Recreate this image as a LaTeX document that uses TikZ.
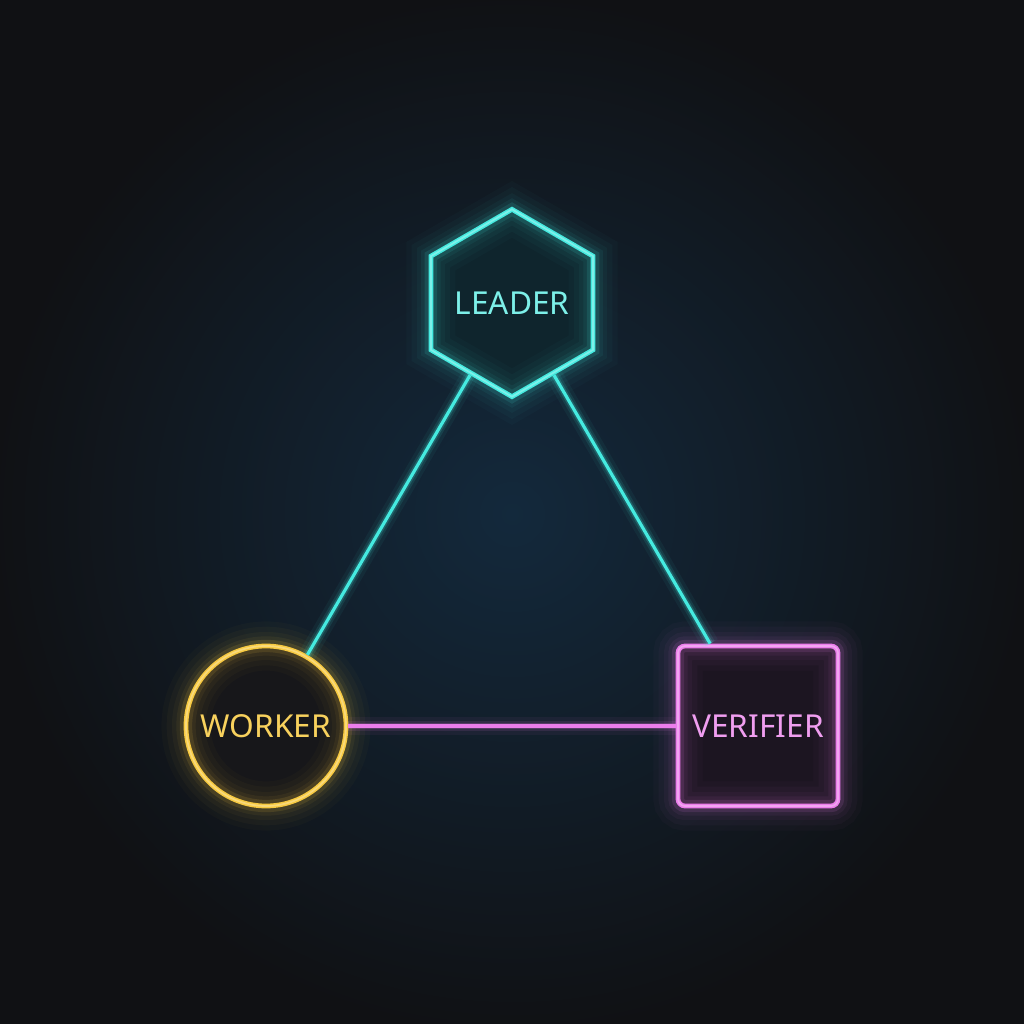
\documentclass[tikz,border=0pt]{standalone}
\usepackage{fontspec}
\setmainfont{Noto Sans}
\usepackage{tikz}
\usetikzlibrary{shapes.geometric}

\definecolor{bgout}{HTML}{101114}
\definecolor{bgin}{HTML}{13293C}
\definecolor{leadercyan}{HTML}{45EAE0}
\definecolor{workeryellow}{HTML}{F7C940}
\definecolor{verifiermagenta}{HTML}{EB7DEB}
\definecolor{leaderfill}{HTML}{0F252D}
\definecolor{workerfill}{HTML}{17171A}
\definecolor{verifierfill}{HTML}{1C1521}

\begin{document}
\begin{tikzpicture}[node distance=4.23cm,
  neon/.style={draw=#1, line width=1.35pt,
    postaction={draw=#1, line width=14pt, opacity=0.025},
    postaction={draw=#1, line width=11pt, opacity=0.03},
    postaction={draw=#1, line width=8pt, opacity=0.04},
    postaction={draw=#1, line width=5.5pt, opacity=0.06},
    postaction={draw=#1, line width=3.5pt, opacity=0.12},
    postaction={draw=#1!45!white, line width=0.5pt, opacity=0.55}},
  wire/.style={draw=#1, line width=0.9pt,
    postaction={draw=#1, line width=5pt, opacity=0.05},
    postaction={draw=#1, line width=3pt, opacity=0.1},
    postaction={draw=#1, line width=1.8pt, opacity=0.2}},
  tag/.style={font=\fontsize{9}{10}\selectfont, text=#1}]

\useasboundingbox (0,0) rectangle (10.24,10.24);
\begin{scope}
\clip (0,0) rectangle (10.24,10.24);
\fill[bgout] (0,0) rectangle (10.24,10.24);
\shade[inner color=bgin, outer color=bgout] (5.12,5.1) circle (5.2cm);
\end{scope}

\node (leader) [regular polygon, regular polygon sides=6, shape border rotate=30, minimum size=1.83cm, inner sep=0pt, fill=leaderfill, neon=leadercyan, tag=leadercyan!70!white] at (5.12,7.21) {LEADER};
\node (worker) [circle, minimum size=1.6cm, inner sep=0pt, fill=workerfill, neon=workeryellow, tag=workeryellow!85!white, below of=leader, xshift=-2.46cm] {WORKER};
\node (verifier) [rectangle, rounded corners=2pt, minimum size=1.6cm, inner sep=0pt, fill=verifierfill, neon=verifiermagenta, tag=verifiermagenta!75!white, right of=worker, xshift=0.69cm] {VERIFIER};

\draw[wire=leadercyan] (leader) -- (worker);
\draw[wire=leadercyan] (leader) -- (verifier);
\draw[wire=verifiermagenta] (worker) -- (verifier);

\end{tikzpicture}
\end{document}
